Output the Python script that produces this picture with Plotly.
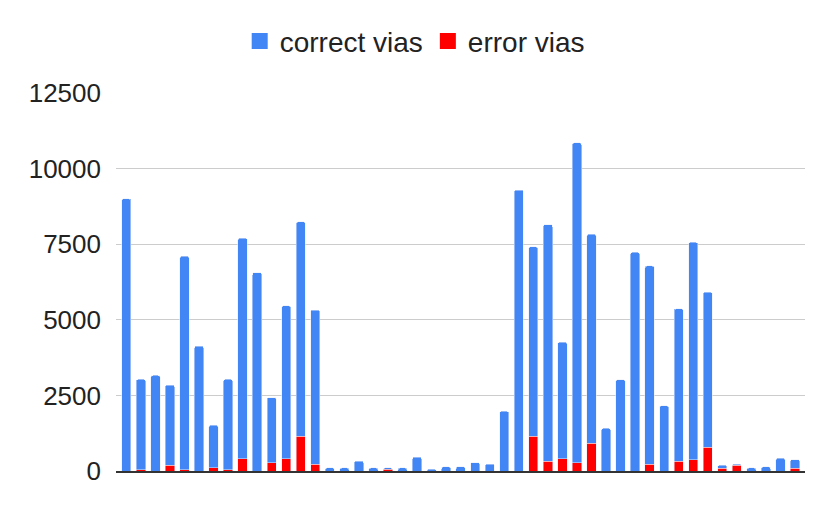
import plotly.graph_objects as go

# ── Data ──────────────────────────────────────────────────────────────────────
samples = list(range(1, 48))

correct_vias = [
    9000, 2985, 3160, 2650, 7055, 4130, 1410, 2985, 7290, 6560,
    2150, 5050, 7090, 5090, 100, 100, 330, 100, 45, 100,
    460, 55, 140, 140, 280, 230, 1970, 9290, 6260, 7830,
    3860, 10570, 6910, 1410, 3020, 7230, 6550, 2150, 5030, 7180,
    5130, 100, 40, 100, 140, 420, 290,
]

error_vias = [
    0, 45, 0, 190, 45, 0, 100, 45, 410, 0,
    280, 410, 1150, 230, 0, 0, 0, 0, 55, 0,
    0, 0, 0, 0, 0, 0, 0, 0, 1150, 320,
    400, 280, 920, 0, 0, 0, 230, 0, 330, 380,
    780, 90, 190, 0, 0, 0, 90,
]

y_ticks = [0, 2500, 5000, 7500, 10000, 12500]

BLUE = "#4285f4"
RED = "#ff0000"

# ── Figure ────────────────────────────────────────────────────────────────────
fig = go.Figure()
# error vias sit at the bottom of each column
fig.add_trace(go.Bar(
    x=samples, y=error_vias, name="error vias",
    marker_color=RED, showlegend=False,
))
fig.add_trace(go.Bar(
    x=samples, y=correct_vias, name="correct vias",
    marker_color=BLUE, showlegend=False,
))

# legend-only entries so the swatches come out as larger squares
for name, color in [("correct vias", BLUE), ("error vias", RED)]:
    fig.add_trace(go.Scatter(
        x=[None], y=[None], mode="markers", name=name,
        marker=dict(symbol="square", size=16, color=color),
    ))

fig.update_layout(
    width=830, height=514,
    barmode="stack",
    bargap=0.36,
    barcornerradius=2,
    plot_bgcolor="white",
    paper_bgcolor="white",
    font=dict(family="Liberation Sans, Arial, sans-serif", size=26, color="#222222"),
    margin=dict(l=108, r=33, t=85, b=51),
    legend=dict(
        orientation="h",
        xref="container", x=0.49, xanchor="center",
        yref="container", y=0.935, yanchor="middle",
        font=dict(size=28, color="#222222"),
        itemwidth=30,
        traceorder="normal",
    ),
    xaxis=dict(
        type="category",
        range=[-0.71, 46.69],
        showticklabels=False,
        showgrid=False,
        ticks="",
        showline=True, linecolor="#333333", linewidth=1.5,
    ),
    yaxis=dict(
        range=[0, 12500],
        tickvals=y_ticks,
        ticktext=[str(v) for v in y_ticks],
        showgrid=True, gridcolor="#cccccc", gridwidth=1,
        zeroline=False,
        ticks="",
        ticklabelstandoff=14,
    ),
)

fig.write_html("out.html")
